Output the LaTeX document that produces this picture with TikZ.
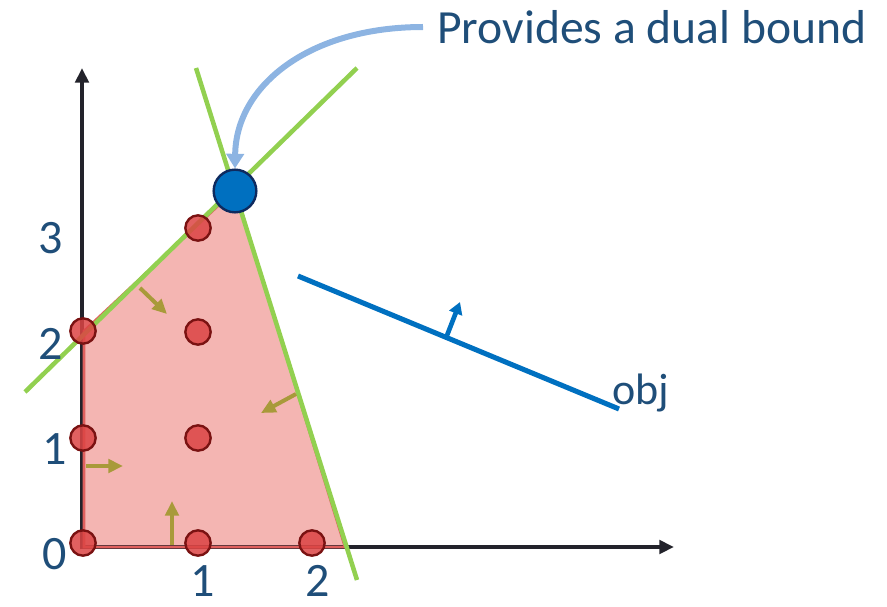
\documentclass[tikz,border=0pt]{standalone}
\usepackage{fontspec}
\setmainfont{Carlito}
\usetikzlibrary{arrows.meta}
\definecolor{txtblue}{HTML}{1F4E79}
\definecolor{axisc}{HTML}{23232B}
\definecolor{polyfill}{HTML}{F4B5B2}
\definecolor{polyedge}{HTML}{E0605E}
\definecolor{greenl}{HTML}{92D050}
\definecolor{dotfill}{HTML}{DC4444}
\definecolor{dotedge}{HTML}{7A1212}
\definecolor{bluept}{HTML}{0070C0}
\definecolor{bluedge}{HTML}{0E2A5E}
\definecolor{olive}{HTML}{A89A3A}
\definecolor{lightblue}{HTML}{8DB4E2}
\tikzset{
  intdot/.style={circle,draw=dotedge,fill=dotfill,fill opacity=0.85,line width=1.8pt,minimum size=19pt,inner sep=0pt},
  optdot/.style={circle,draw=bluedge,fill=bluept,line width=1.8pt,minimum size=32pt,inner sep=0pt},
  axisline/.style={draw=axisc,line width=3pt,-{Triangle[length=11pt,width=10pt]}},
  cutline/.style={draw=greenl,line width=3.4pt},
  dirarrow/.style={draw=olive,line width=3pt,-{Triangle[length=11pt,width=10pt]}},
  ticklab/.style={text=txtblue,font=\fontsize{36}{40}\selectfont,inner sep=0pt,anchor=base},
}
\begin{document}
\begin{tikzpicture}[x=0.75pt,y=-0.75pt]
\useasboundingbox (0,0) rectangle (887,606);
% polygon
\fill[polyfill] (84,547) -- (84,331) -- (235,190) -- (345,547) -- cycle;
% axes
\coordinate (O) at (82,549);
\coordinate (ytop) at (82,68);
\coordinate (xend) at (674,547);
\draw[axisline] (O) -- (ytop);
\draw[axisline] (80,547) -- (xend);
% polygon edges
\draw[polyedge,line width=2pt] (84,547) -- (84,331) -- (235,190) -- (345,547) -- cycle;
% green cut lines
\coordinate (g1a) at (25,392);
\coordinate (g1b) at (357,68);
\coordinate (g2a) at (196,68);
\coordinate (g2b) at (357,580);
\draw[cutline] (g1a) -- (g1b);
\draw[cutline] (g2a) -- (g2b);
% direction arrows
\coordinate (a1s) at (140,288); \coordinate (a1e) at (167,314);
\coordinate (a2s) at (86,466); \coordinate (a2e) at (123,466);
\coordinate (a3s) at (172,545); \coordinate (a3e) at (172,501);
\coordinate (a4s) at (296,394); \coordinate (a4e) at (261,413);
\draw[dirarrow] (a1s) -- (a1e);
\draw[dirarrow] (a2s) -- (a2e);
\draw[dirarrow] (a3s) -- (a3e);
\draw[dirarrow] (a4s) -- (a4e);
% integer points
\node[intdot] (p00) at (83,543) {};
\node[intdot] (p10) at (198,543) {};
\node[intdot] (p20) at (312,543) {};
\node[intdot] (p01) at (83,438) {};
\node[intdot] (p11) at (198,438) {};
\node[intdot] (p02) at (83,331) {};
\node[intdot] (p12) at (198,332) {};
\node[intdot] (p13) at (198,228) {};
% optimal LP point
\node[optdot] (opt) at (235,191) {};
% objective line
\coordinate (o1) at (298,276);
\coordinate (o2) at (619,409);
\coordinate (om) at (446,338);
\coordinate (oa) at (460,302);
\draw[draw=bluept,line width=3.8pt] (o1) -- (o2);
\draw[draw=bluept,line width=3.5pt,-{Triangle[length=9pt,width=10pt]}] (om) -- (oa);
\node[anchor=west,text=txtblue,font=\fontsize{33}{36}\selectfont,inner sep=0pt] (obj) at (612,393) {obj};
% annotation
\node[anchor=west,text=txtblue,font=\fontsize{35.7}{40}\selectfont,inner sep=0pt] (lab) at (437,27) {Provides a dual bound};
\coordinate (cstart) at (423,27);
\draw[draw=lightblue,line width=4.5pt,-{Triangle[length=11pt,width=13pt]}] (cstart) .. controls (310,27) and (236,85) .. (opt.north);
% tick labels
\node[ticklab] (y3) at (51,253) {3};
\node[ticklab] (y2) at (51,359) {2};
\node[ticklab] (y1) at (55,464) {1};
\node[ticklab] (y0) at (55,569) {0};
\node[ticklab] (x1) at (203,596) {1};
\node[ticklab] (x2) at (318,596) {2};
\end{tikzpicture}
\end{document}
